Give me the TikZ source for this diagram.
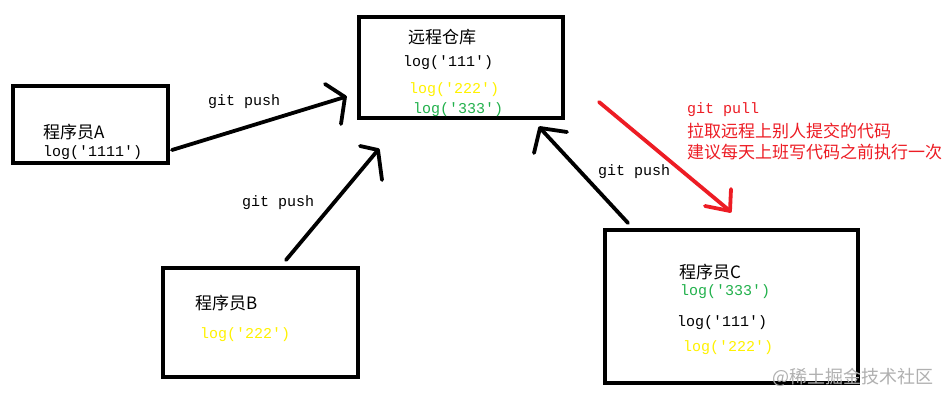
\documentclass[tikz,border=0pt]{standalone}
\usepackage{fontspec}
\newfontfamily\cjk{Noto Sans CJK SC}
\newfontfamily\mono{Liberation Mono}
\definecolor{pyellow}{HTML}{FFF200}
\definecolor{pgreen}{HTML}{22B14C}
\definecolor{pred}{HTML}{ED1C24}
\definecolor{wmark}{HTML}{B0B0B0}
\tikzset{
  box/.style={draw=black, line width=3.8pt, inner sep=0pt},
  arr/.style={draw=black, line width=3.8pt, line cap=round, line join=round},
  redarr/.style={draw=pred, line width=3.8pt, line cap=round, line join=round},
  zh/.style={anchor=west, inner sep=0pt, font=\cjk\fontsize{17}{20}\selectfont},
  code/.style={anchor=west, inner sep=0pt, font=\mono\fontsize{15}{18}\selectfont},
}
\begin{document}
\begin{tikzpicture}[x=1pt,y=-1pt]
\useasboundingbox (0,0) rectangle (947,403);
\fill[white] (0,0) rectangle (947,403);

% boxes
\node[box, minimum width=204pt, minimum height=101pt] (remote) at (461,67.5) {};
\node[box, minimum width=155pt, minimum height=77pt] (boxA) at (90.5,124.5) {};
\node[box, minimum width=195pt, minimum height=109pt] (boxB) at (260.5,322.5) {};
\node[box, minimum width=253pt, minimum height=153pt] (boxC) at (731.5,306.5) {};

% remote texts
\node[zh] (rtitle) at (408,37) {远程仓库};
\node[code] (r1) at (403,63) {log('111')};
\node[code, text=pyellow] (r2) at (409,90) {log('222')};
\node[code, text=pgreen] (r3) at (413,110) {log('333')};

% A texts
\node[zh] (atitle) at (43,132) {程序员A};
\node[code] (a1) at (43,153) {log('1111')};

% B texts
\node[zh] (btitle) at (195,303) {程序员B};
\node[code, text=pyellow] (b1) at (200,335) {log('222')};

% C texts
\node[zh] (ctitle) at (679,272) {程序员C};
\node[code, text=pgreen] (c1) at (680,292) {log('333')};
\node[code] (c2) at (677,323) {log('111')};
\node[code, text=pyellow] (c3) at (683,348) {log('222')};

% labels
\node[code] (lA) at (208,102) {git push};
\node[code] (lB) at (242,203) {git push};
\node[code] (lC) at (598,172) {git push};
\node[code, text=pred] (lpull) at (687,110) {git pull};
\node[zh, text=pred] (lp2) at (687,131) {拉取远程上别人提交的代码};
\node[zh, text=pred] (lp3) at (687,152) {建议每天上班写代码之前执行一次};

% watermark
\node[zh, text=wmark, font=\cjk\fontsize{18}{20}\selectfont] (wm) at (772,377) {@稀土掘金技术社区};

% arrow coordinates
\coordinate (As) at (172,150);
\coordinate (At) at (345,97);
\coordinate (Bs) at (286,260);
\coordinate (Bt) at (378,150);
\coordinate (Cs) at (628,223);
\coordinate (Ct) at (540,128);
\coordinate (Rs) at (599,102);
\coordinate (Rt) at (730,211);

% arrows
\draw[arr] (As) -- (At);
\draw[arr] (At) ++(-20,-13) -- (At) -- ++(-4,27);
\draw[arr] (Bs) -- (Bt);
\draw[arr] (Bt) ++(-18,-4) -- (Bt) -- ++(4,30);
\draw[arr] (Cs) -- (Ct);
\draw[arr] (Ct) ++(27,4) -- (Ct) -- ++(-6,25);
\draw[redarr] (Rs) -- (Rt);
\draw[redarr] (Rt) ++(-25,-5) -- (Rt) -- ++(1,-22);
\end{tikzpicture}
\end{document}
